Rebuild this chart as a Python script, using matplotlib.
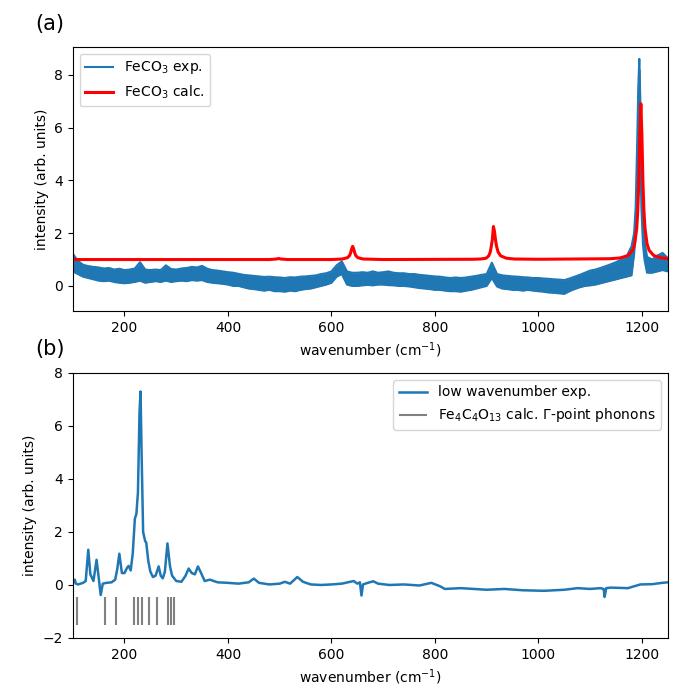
import numpy as np
import matplotlib
matplotlib.use("Agg")
import matplotlib.pyplot as plt

# ---------------- Panel (a) data ----------------
# experimental FeCO3 spectrum: the noisy trace is drawn as its upper / lower envelope
exp_wavenumber = list(range(100, 1180, 10)) + [1180, 1185, 1188, 1191, 1193, 1195, 1197,
                                               1199, 1202, 1205, 1210, 1220, 1230, 1240, 1250]
exp_upper = [
    1.22, 0.95, 0.8, 0.75, 0.72, 0.7, 0.66, 0.68, 0.62, 0.65,     # 100-190
    0.6, 0.62, 0.66, 0.9, 0.62, 0.6, 0.62, 0.6, 0.78, 0.64,       # 200-290
    0.62, 0.66, 0.68, 0.72, 0.7, 0.76, 0.65, 0.6, 0.58, 0.55,     # 300-390
    0.52, 0.5, 0.46, 0.42, 0.4, 0.38, 0.36, 0.34, 0.35, 0.33,     # 400-490
    0.32, 0.3, 0.33, 0.32, 0.35, 0.36, 0.38, 0.4, 0.45, 0.48,     # 500-590
    0.55, 0.78, 0.93, 0.55, 0.5, 0.5, 0.52, 0.5, 0.55, 0.5,       # 600-690
    0.52, 0.55, 0.5, 0.48, 0.48, 0.45, 0.45, 0.42, 0.4, 0.38,     # 700-790
    0.36, 0.35, 0.32, 0.3, 0.32, 0.3, 0.32, 0.35, 0.38, 0.42,     # 800-890
    0.45, 0.88, 0.45, 0.4, 0.38, 0.36, 0.35, 0.33, 0.32, 0.3,     # 900-990
    0.3, 0.28, 0.27, 0.25, 0.24, 0.22, 0.28, 0.35, 0.42, 0.5,     # 1000-1090
    0.58, 0.62, 0.68, 0.75, 0.82, 0.9, 1.0, 1.1,                  # 1100-1170
    1.5, 2.0, 3.0, 5.5, 7.5, 8.6, 7.0, 4.5, 2.5, 1.7, 1.1, 1.0, 1.15, 1.25, 1.05,
]
exp_lower = [
    0.55, 0.45, 0.35, 0.3, 0.25, 0.2, 0.18, 0.2, 0.15, 0.12,      # 100-190
    0.1, 0.12, 0.15, 0.2, 0.12, 0.15, 0.18, 0.15, 0.2, 0.15,      # 200-290
    0.18, 0.2, 0.18, 0.22, 0.2, 0.22, 0.15, 0.12, 0.1, 0.08,      # 300-390
    0.05, 0.0, 0.0, -0.05, -0.1, -0.12, -0.15, -0.18, -0.15, -0.2,   # 400-490
    -0.2, -0.22, -0.18, -0.2, -0.15, -0.12, -0.1, -0.05, 0.0, 0.05,  # 500-590
    0.12, 0.35, 0.45, 0.05, 0.0, 0.0, 0.02, 0.04, 0.02, 0.05,        # 600-690
    0.05, 0.03, 0.02, 0.0, 0.0, -0.02, -0.05, -0.08, -0.1, -0.12,    # 700-790
    -0.15, -0.15, -0.18, -0.2, -0.2, -0.22, -0.18, -0.15, -0.1, -0.05,  # 800-890
    0.0, 0.3, -0.02, -0.1, -0.12, -0.15, -0.15, -0.18, -0.15, -0.18,    # 900-990
    -0.2, -0.22, -0.25, -0.26, -0.28, -0.3, -0.2, -0.12, -0.05, 0.0,    # 1000-1090
    0.02, 0.05, 0.1, 0.15, 0.2, 0.25, 0.3, 0.35,                        # 1100-1170
    0.4, 1.2, 2.0, 4.0, 6.0, 8.2, 5.0, 3.0, 1.6, 1.0, 0.5, 0.5, 0.55, 0.6, 0.55,
]

# calculated FeCO3 spectrum
calc_wavenumber = [100, 480, 494, 498, 502, 516, 600, 621, 631, 635, 637, 639,
                   641, 643, 645, 647, 651, 661, 700, 873, 888, 899, 904, 907,
                   909, 911, 913, 915, 917, 919, 922, 927, 938, 953, 1000,
                   1138, 1158, 1173, 1182, 1186, 1190, 1192, 1194, 1196, 1198,
                   1200, 1202, 1204, 1206, 1210, 1214, 1223, 1238, 1250]
calc_intensity = [1.0, 1.0, 1.02, 1.04, 1.02, 1.0, 1.0, 1.02, 1.07, 1.15, 1.25, 1.4,
                  1.5, 1.4, 1.25, 1.15, 1.07, 1.02, 1.0, 1.01, 1.02, 1.05, 1.14, 1.29,
                  1.51, 1.76, 2.25, 2.08, 1.76, 1.51, 1.29, 1.14, 1.05, 1.02, 1.01,
                  1.03, 1.06, 1.15, 1.35, 1.59, 2.18, 2.82, 3.95, 5.72, 6.9,
                  5.72, 3.95, 2.82, 2.18, 1.59, 1.35, 1.15, 1.06, 1.04]

# ---------------- Panel (b) data ----------------
low_wavenumber = [100, 104, 106, 110, 120, 125, 130, 134, 140, 146, 150, 154, 158,
                  165, 175, 182, 186, 190, 195, 200, 205, 208, 212, 216, 220, 223,
                  226, 229, 231, 233, 236, 240, 242, 246, 250, 255, 260, 266, 270,
                  274, 278, 283, 288, 292, 300, 310, 318, 324, 330, 336, 342, 348,
                  355, 365, 380, 400, 420, 440, 450, 460, 480, 500, 510, 520, 534,
                  545, 560, 580, 600, 620, 643, 650, 655, 658, 661, 670, 681, 690,
                  712, 740, 770, 793, 810, 819, 850, 900, 934, 970, 1011, 1050,
                  1076, 1100, 1120, 1126, 1128, 1131, 1140, 1173, 1197, 1220, 1239,
                  1250]
low_intensity = [0.05, 0.2, 0.05, 0.02, 0.08, 0.15, 1.33, 0.4, 0.15, 0.95, 0.3, -0.38, 0.05,
                 0.08, 0.1, 0.2, 0.6, 1.18, 0.45, 0.45, 0.65, 0.72, 0.55, 1.2, 2.5, 2.68,
                 3.5, 6.5, 7.3, 5.0, 2.0, 1.65, 1.6, 0.9, 0.5, 0.3, 0.35, 0.7, 0.35,
                 0.25, 0.5, 1.57, 0.7, 0.35, 0.15, 0.12, 0.35, 0.62, 0.45, 0.4, 0.7, 0.45,
                 0.15, 0.2, 0.1, 0.08, 0.05, 0.1, 0.24, 0.08, 0.02, 0.05, 0.12, 0.05, 0.3,
                 0.12, 0.02, 0.0, 0.02, 0.05, 0.15, 0.05, 0.1, -0.4, 0.02, 0.08, 0.14, 0.05,
                 0.0, 0.02, -0.02, 0.08, -0.05, -0.15, -0.12, -0.18, -0.15, -0.2, -0.22, -0.18,
                 -0.12, -0.15, -0.12, -0.15, -0.45, -0.12, -0.1, -0.12, 0.02, 0.03, 0.08,
                 0.1]

# Fe4C4O13 calculated Gamma-point phonon frequencies
phonon_freqs = [109, 162, 184, 218, 226, 234, 247, 263, 284, 289, 295]
phonon_ymin, phonon_ymax = -1.5, -0.45

# ---------------- Figure ----------------
fig = plt.figure(figsize=(6.8, 6.93), dpi=100)
ax1 = fig.add_axes([0.107, 0.5512, 0.875, 0.381])
ax2 = fig.add_axes([0.107, 0.0794, 0.875, 0.3824])

ax1.fill_between(exp_wavenumber, exp_lower, exp_upper, color="C0", lw=0)
ax1.plot(exp_wavenumber, exp_upper, color="C0", lw=1.5, label="FeCO$_3$ exp.")
ax1.plot(exp_wavenumber, exp_lower, color="C0", lw=1.5)
ax1.plot(calc_wavenumber, calc_intensity, color="red", lw=2.2, label="FeCO$_3$ calc.")
ax1.set_xlim(100, 1250)
ax1.set_ylim(-0.95, 9.05)
ax1.set_xlabel("wavenumber (cm$^{-1}$)")
ax1.set_ylabel("intensity (arb. units)")
ax1.legend(loc="upper left")

ax2.plot(low_wavenumber, low_intensity, color="C0", lw=1.8, label="low wavenumber exp.")
ax2.vlines(phonon_freqs, phonon_ymin, phonon_ymax, color="gray", lw=1.5,
           label="Fe$_4$C$_4$O$_{13}$ calc. Γ-point phonons")
ax2.set_xlim(100, 1250)
ax2.set_ylim(-2, 8)
ax2.set_xlabel("wavenumber (cm$^{-1}$)")
ax2.set_ylabel("intensity (arb. units)")
ax2.legend(loc="upper right")

fig.text(35 / 680, 1 - 24 / 693, "(a)", fontsize=15, va="center", ha="left")
fig.text(35 / 680, 1 - 349 / 693, "(b)", fontsize=15, va="center", ha="left")

fig.savefig("out.png", dpi=100)
